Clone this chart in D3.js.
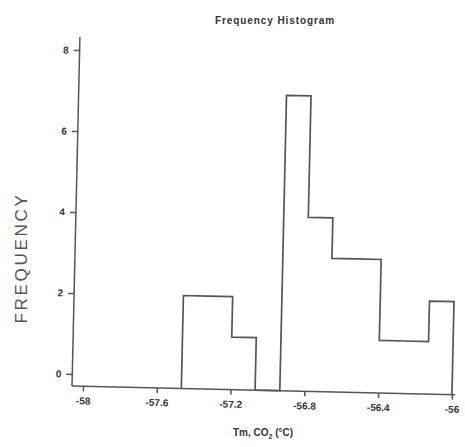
<!DOCTYPE html>
<html lang="en">
<head>
  <meta charset="UTF-8">
  <title>Frequency Histogram</title>
  <style>
    body {
      margin: 0;
      padding: 0;
      background: #fff;
    }
    svg text {
      font-family: "Liberation Sans", Arial, sans-serif;
      fill: #333;
    }
    .tick text {
      font-size: 10px;
      font-weight: bold;
    }
  </style>
</head>
<body>
  <div id="chart"></div>

  <script src="https://d3js.org/d3.v7.min.js"></script>
  <script>
    // bin edges (deg C) and counts per bin
    const binEdges = [-57.467, -57.333, -57.2, -57.067, -56.933, -56.8, -56.667, -56.533, -56.4, -56.267, -56.133, -56.0];
    const counts = [2, 2, 1, 0, 7, 4, 3, 3, 1, 1, 2];

    const xTicks = [-58, -57.6, -57.2, -56.8, -56.4, -56];
    const xTickLabels = ["-58", "-57.6", "-57.2", "-56.8", "-56.4", "-56"];
    const yTicks = [0, 2, 4, 6, 8];

    const width = 465;
    const height = 447;
    const lineColor = "#555";

    // corner of the axes (the x axis sits below the zero tick)
    const corner = { x: 72, y: 386 };

    const svg = d3.select("#chart")
      .append("svg")
      .attr("width", width)
      .attr("height", height);

    const x = d3.scaleLinear().domain([-58, -56]).range([83, 452]);
    const y = d3.scaleLinear().domain([0, 8]).range([374, 50]);

    // the scanned plot is tilted a little clockwise
    const g = svg.append("g")
      .attr("transform", `rotate(1.3, ${corner.x}, ${corner.y})`);

    // histogram outline
    const pts = [[x(binEdges[0]), corner.y]];
    counts.forEach((c, i) => {
      const h = c > 0 ? y(c) : corner.y;
      pts.push([x(binEdges[i]), h]);
      pts.push([x(binEdges[i + 1]), h]);
    });
    pts.push([x(binEdges[binEdges.length - 1]), corner.y]);

    g.append("path")
      .attr("d", d3.line()(pts))
      .attr("fill", "none")
      .attr("stroke", lineColor)
      .attr("stroke-width", 1.7);

    // x axis
    const xAxis = g.append("g")
      .attr("transform", `translate(0, ${corner.y})`)
      .call(d3.axisBottom(x)
        .tickValues(xTicks)
        .tickFormat((d, i) => xTickLabels[i])
        .tickSize(5)
        .tickPadding(6));

    xAxis.select(".domain")
      .attr("d", `M${corner.x},0H${x(-56) + 3}`);

    // y axis
    const yAxis = g.append("g")
      .attr("transform", `translate(${corner.x}, 0)`)
      .call(d3.axisLeft(y)
        .tickValues(yTicks)
        .tickSize(6)
        .tickPadding(5));

    yAxis.select(".domain")
      .attr("d", `M0,37V${corner.y}`);

    g.selectAll(".domain, .tick line")
      .attr("stroke", lineColor)
      .attr("stroke-width", 1.5);

    // title
    svg.append("text")
      .attr("x", 275)
      .attr("y", 24)
      .attr("text-anchor", "middle")
      .attr("font-size", 10)
      .attr("font-weight", "bold")
      .attr("letter-spacing", 0.9)
      .text("Frequency Histogram");

    // y axis label
    svg.append("text")
      .attr("transform", "translate(27, 258) rotate(-90)")
      .attr("text-anchor", "middle")
      .attr("font-size", 17)
      .attr("letter-spacing", 2.7)
      .style("fill", "#555")
      .text("FREQUENCY");

    // x axis label
    const xl = svg.append("text")
      .attr("x", 263)
      .attr("y", 436)
      .attr("text-anchor", "middle")
      .attr("font-size", 10)
      .attr("font-weight", "bold");
    xl.append("tspan").text("Tm, CO");
    xl.append("tspan").attr("dy", 3).attr("font-size", 7).text("2");
    xl.append("tspan").attr("dy", -3).text(" (°C)");
  </script>
</body>
</html>
